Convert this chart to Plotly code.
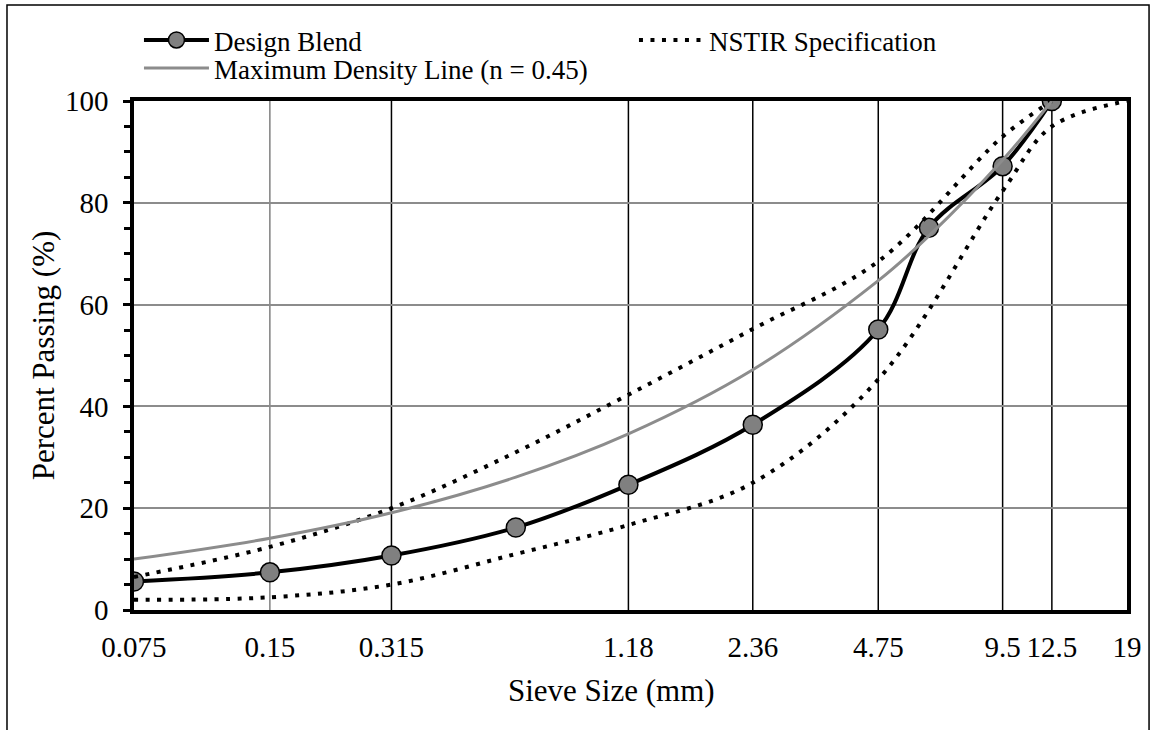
import plotly.graph_objects as go

# ---- data ----
blend_sizes = [0.075, 0.16, 0.315, 0.63, 1.18, 2.36, 4.75, 6.3, 9.5, 12.5]
blend_pass = [5.6, 7.4, 10.7, 16.2, 24.6, 36.4, 55.1, 75.1, 87.2, 100]

mdl_sizes = [0.075, 0.16, 0.315, 0.63, 1.18, 2.36, 4.75, 6.3, 9.5, 12.5]
mdl_pass = [10.0, 14.1, 19.1, 26.1, 34.6, 47.2, 64.7, 73.5, 88.4, 100]

spec_upper_sizes = [0.075, 0.16, 0.315, 0.63, 1.18, 2.36, 4.75, 9.5, 12.5]
spec_upper = [6.5, 12.4, 20, 31, 42.3, 55.2, 68.5, 93, 100]
spec_lower_sizes = [0.075, 0.16, 0.315, 0.63, 1.18, 2.36, 4.75, 9.5, 12.5, 19]
spec_lower = [2, 2.5, 5, 11, 16.7, 25, 45.3, 82.3, 95, 100]

tick_sizes = [0.075, 0.16, 0.315, 1.18, 2.36, 4.75, 9.5, 12.5, 19]
tick_labels = ["0.075", "0.15", "0.315", "1.18", "2.36", "4.75", "9.5", "12.5", "19"]
grid_sizes = [0.16, 0.315, 1.18, 2.36, 4.75, 9.5, 12.5]

x_title = "Sieve Size (mm)"
y_title = "Percent Passing (%)"

FONT = "Liberation Serif, Times New Roman, serif"
dot = "4px,7.5px"

fig = go.Figure()
fig.add_trace(go.Scatter(
    x=blend_sizes, y=blend_pass, name="Design Blend", mode="lines+markers",
    line=dict(color="black", width=4, shape="spline", smoothing=1),
    marker=dict(size=19, color="#808080", line=dict(color="black", width=1.5)),
    legend="legend", legendrank=1))
fig.add_trace(go.Scatter(
    x=spec_upper_sizes, y=spec_upper, name="NSTIR Specification", mode="lines",
    line=dict(color="black", width=4, dash=dot, shape="spline", smoothing=1),
    legend="legend", legendrank=2, legendgroup="spec"))
fig.add_trace(go.Scatter(
    x=spec_lower_sizes, y=spec_lower, name="NSTIR Specification", mode="lines",
    line=dict(color="black", width=4, dash=dot, shape="spline", smoothing=1),
    showlegend=False, legendgroup="spec"))
fig.add_trace(go.Scatter(
    x=mdl_sizes, y=mdl_pass, name="Maximum Density Line (n = 0.45)", mode="lines",
    line=dict(color="#8c8c8c", width=3, shape="spline", smoothing=1),
    legend="legend2"))

# vertical sieve lines
for i, s in enumerate(grid_sizes):
    fig.add_shape(type="line", xref="x", yref="paper", x0=s, x1=s, y0=0, y1=1,
                  line=dict(color="#404040" if i == 0 else "black", width=1 if i == 0 else 1.5),
                  layer="below")

# outer chart border
fig.add_shape(type="rect", xref="paper", yref="paper",
              x0=-0.1279, x1=1.0222, y0=-0.3, y1=1.1886,
              line=dict(color="black", width=1.5), fillcolor="rgba(0,0,0,0)", layer="below")

# x-axis title (placed slightly left of centre as in the reference)
fig.add_annotation(text=x_title, xref="paper", yref="paper", x=0.481, y=-0.158,
                   xanchor="center", yanchor="middle", showarrow=False,
                   font=dict(family=FONT, size=31, color="black"))

legend_common = dict(orientation="h", xanchor="left", yanchor="middle",
                     entrywidth=415, entrywidthmode="pixels", itemwidth=65,
                     font=dict(family=FONT, size=27), bgcolor="rgba(0,0,0,0)")

fig.update_layout(
    width=1154, height=730,
    margin=dict(l=134, r=27, t=101, b=120, autoexpand=False),
    paper_bgcolor="white", plot_bgcolor="white",
    font=dict(family=FONT, size=29, color="black"),
    showlegend=True,
    legend=dict(x=0.005, y=1.119, **legend_common),
    legend2=dict(x=0.005, y=1.064, **legend_common),
    xaxis=dict(
        type="log", range=[-1.1249, 1.2788],
        tickmode="array", tickvals=tick_sizes, ticktext=tick_labels,
        showgrid=False, zeroline=False,
        showline=True, mirror=True, linecolor="black", linewidth=3.5,
        ticks="", ticklabelstandoff=8,
        tickfont=dict(family=FONT, size=29),
    ),
    yaxis=dict(
        range=[0, 100], tickmode="linear", tick0=0, dtick=20,
        showgrid=True, gridcolor="#8c8c8c", gridwidth=1.5, zeroline=False,
        showline=True, mirror=True, linecolor="black", linewidth=3.5,
        ticks="outside", ticklen=7, tickwidth=3, tickcolor="black",
        minor=dict(dtick=5, ticks="outside", ticklen=6, tickwidth=3, tickcolor="black", showgrid=False),
        ticklabelstandoff=9,
        tickfont=dict(family=FONT, size=29),
        title=dict(text=y_title, font=dict(family=FONT, size=31), standoff=2),
    ),
)

fig.write_html("out.html")
